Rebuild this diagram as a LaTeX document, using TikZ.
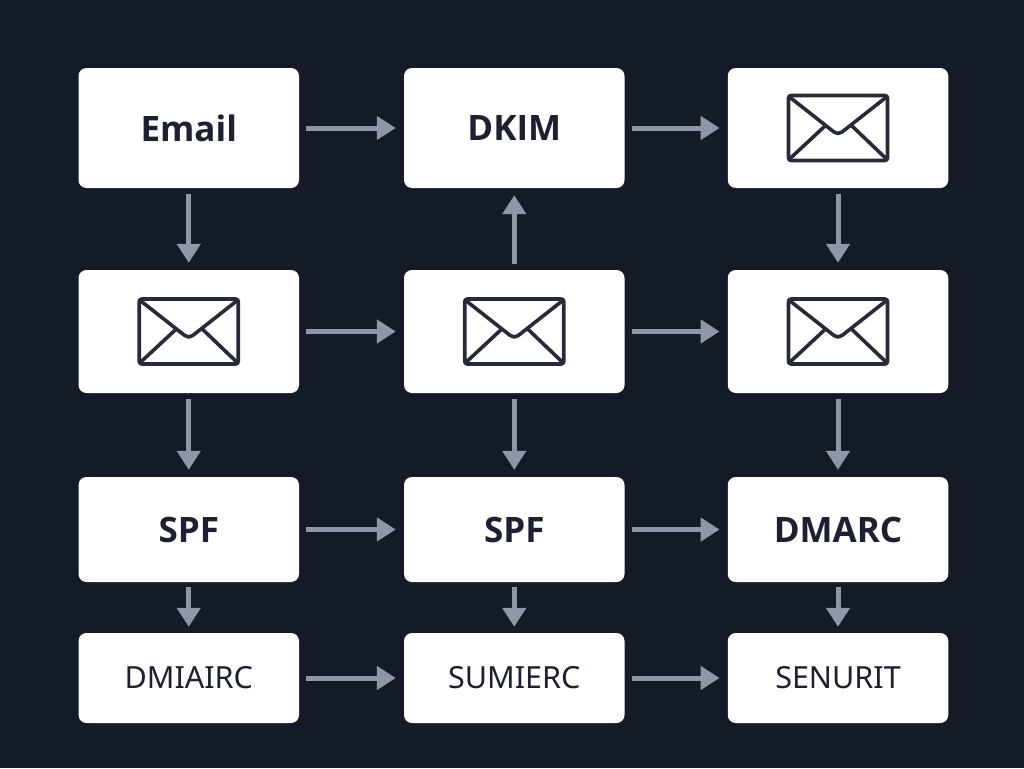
\documentclass[tikz,border=0pt]{standalone}
\usepackage{fontspec}
\setmainfont{Noto Sans}
\newfontfamily\heavyface{Open Sans}
\usetikzlibrary{arrows.meta}
\definecolor{bgdark}{HTML}{141A28}
\definecolor{inkdark}{HTML}{1B2130}
\definecolor{envink}{HTML}{252B38}
\definecolor{arrowgrey}{HTML}{8F96A6}
\tikzset{
  card/.style={draw=none,fill=white,rounded corners=8pt,inner sep=0pt,minimum width=220.5pt,text=inkdark},
  tall/.style={card,minimum height=120pt},
  tallb/.style={card,minimum height=123pt},
  mid/.style={card,minimum height=105pt},
  low/.style={card,minimum height=90pt},
  big/.style={font=\fontsize{35}{40}\selectfont\heavyface\bfseries},
  small/.style={font=\fontsize{30.5}{36}\selectfont},
  flow/.style={draw=arrowgrey,line width=5pt,-{Triangle[length=19pt,width=23pt,fill=arrowgrey]}},
  hflow/.style={flow,shorten <=7pt,shorten >=8pt},
  vflow/.style={flow,shorten <=6pt,shorten >=7pt},
  sflow/.style={flow,shorten <=5pt,shorten >=6pt},
  envline/.style={draw=envink,line width=3.6pt,line join=round,line cap=round}
}
\newcommand{\envelopeat}[1]{%
  \begin{scope}[shift={(#1.center)},envline]
    \draw[rounded corners=2.5pt] (-49.5pt,-32.5pt) rectangle (49.5pt,32.5pt);
    \draw (-48.5pt,31pt) -- (-4pt,-4pt) to[out=-40,in=-140] (4pt,-4pt) -- (48.5pt,31pt);
    \draw (-48.5pt,-31pt) -- (-13pt,2pt);
    \draw (48.5pt,-31pt) -- (14pt,2pt);
  \end{scope}}
\begin{document}
\begin{tikzpicture}[x=1pt,y=-1pt]
\useasboundingbox[fill=bgdark] (0,0) rectangle (1024,768);
\node[tall,big] (a1) at (188.75,128) {Email};
\node[tall,big] (a2) at (514.25,128) {DKIM};
\node[tall] (a3) at (838,128) {};
\node[tallb] (b1) at (188.75,331.5) {};
\node[tallb] (b2) at (514.25,331.5) {};
\node[tallb] (b3) at (838,331.5) {};
\node[mid,big] (c1) at (188.75,529.5) {SPF};
\node[mid,big] (c2) at (514.25,529.5) {SPF};
\node[mid,big] (c3) at (838,529.5) {DMARC};
\node[low,small] (d1) at (188.75,678) {DMIAIRC};
\node[low,small] (d2) at (514.25,678) {SUMIERC};
\node[low,small] (d3) at (838,678) {SENURIT};
\envelopeat{a3}
\envelopeat{b1}
\envelopeat{b2}
\envelopeat{b3}
\draw[hflow] (a1) -- (a2);
\draw[hflow] (a2) -- (a3);
\draw[hflow] (b1) -- (b2);
\draw[hflow] (b2) -- (b3);
\draw[hflow] (c1) -- (c2);
\draw[hflow] (c2) -- (c3);
\draw[hflow] (d1) -- (d2);
\draw[hflow] (d2) -- (d3);
\draw[vflow] (a1) -- (b1);
\draw[vflow] (a3) -- (b3);
\draw[vflow] (b2) -- (a2);
\draw[vflow] (b1) -- (c1);
\draw[vflow] (b2) -- (c2);
\draw[vflow] (b3) -- (c3);
\draw[sflow] (c1) -- (d1);
\draw[sflow] (c2) -- (d2);
\draw[sflow] (c3) -- (d3);
\end{tikzpicture}
\end{document}
